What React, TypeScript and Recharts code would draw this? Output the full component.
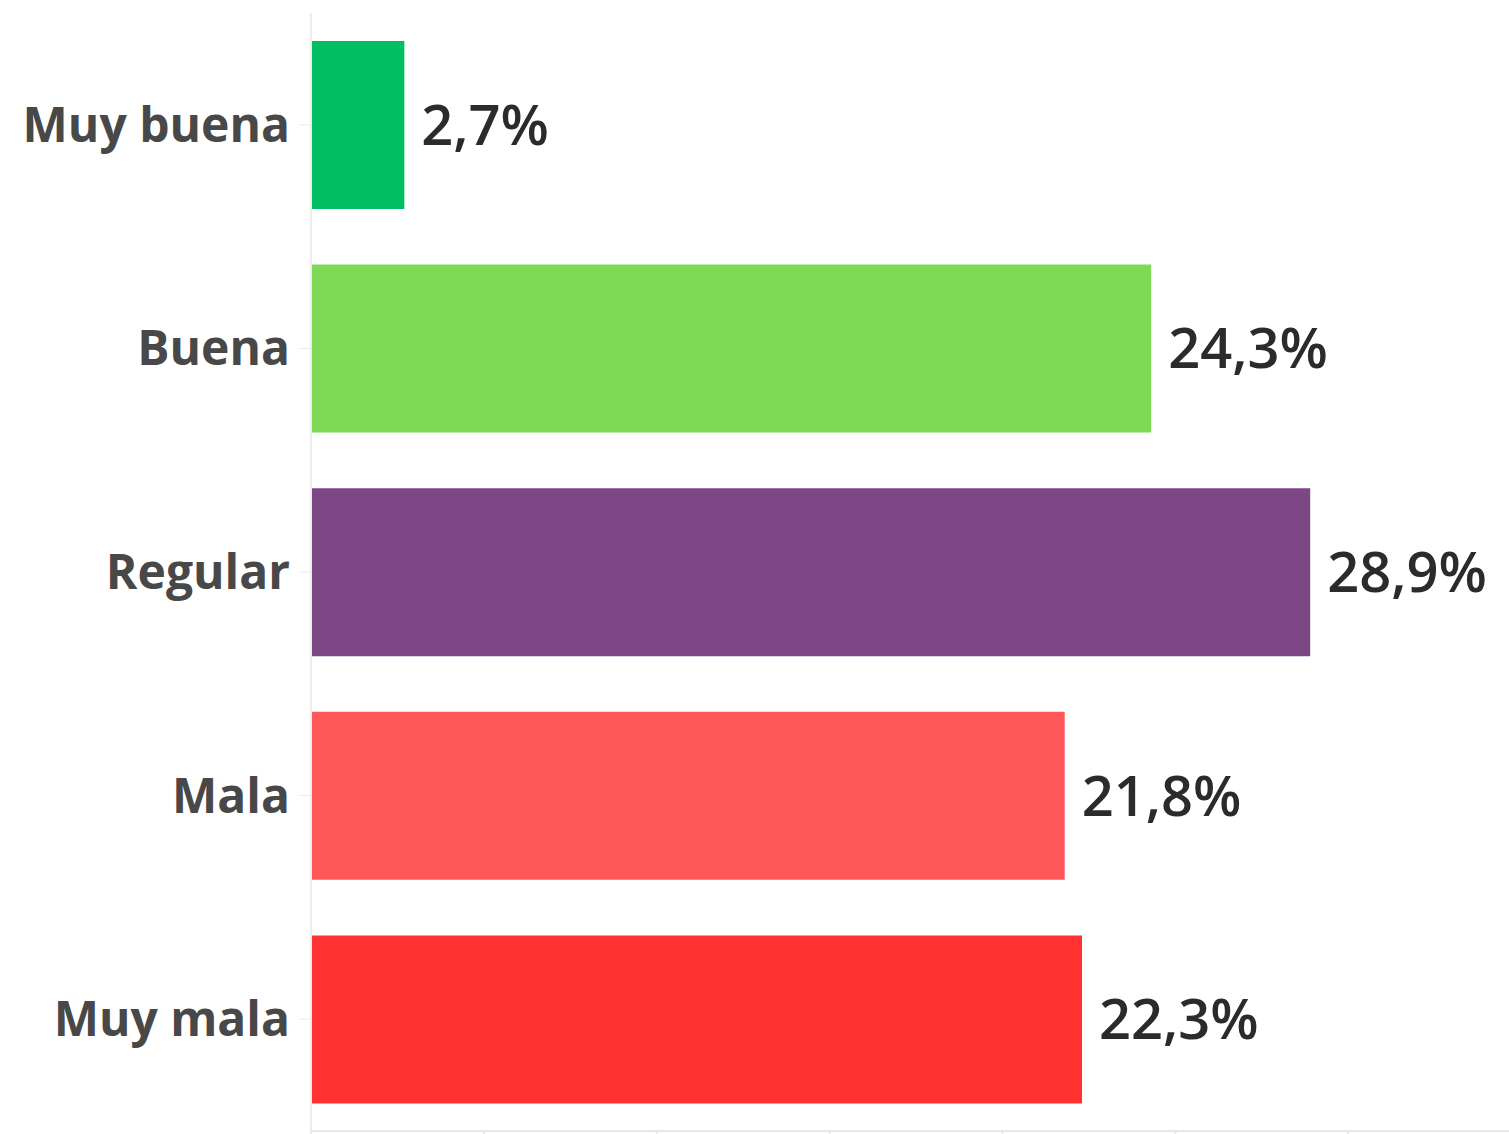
import { BarChart, Bar, XAxis, YAxis, Cell, LabelList } from "recharts"

const categories = ["Muy buena", "Buena", "Regular", "Mala", "Muy mala"]
const values = [2.7, 24.3, 28.9, 21.8, 22.3]
const colors = ["#00BF63", "#7ED957", "#7D4786", "#FF5757", "#FF3131"]
const xTicks = [0, 5, 10, 15, 20, 25, 30]

const data = categories.map((name, i) => ({ name, value: values[i] }))

const fmt = (v: any) => `${Number(v).toFixed(1).replace(".", ",")}%`

export default function App() {
  return (
    <div style={{ position: "absolute", left: 0, top: 0, width: 1509, height: 1134, overflow: "hidden", background: "#fff" }}>
      <BarChart
        width={1509}
        height={1140}
        data={data}
        layout="vertical"
        margin={{ top: 13, right: 0, bottom: 0, left: 0 }}
        barCategoryGap={28}
      >
        <XAxis
          type="number"
          domain={[0, 34.65]}
          ticks={xTicks}
          height={9}
          axisLine={{ stroke: "#e8e8e8", strokeWidth: 2 }}
          tickLine={{ stroke: "#e8e8e8", strokeWidth: 2 }}
          tickSize={6}
          tick={() => <g />}
        />
        <YAxis
          type="category"
          dataKey="name"
          width={311}
          axisLine={{ stroke: "#ececec", strokeWidth: 2 }}
          tickLine={{ stroke: "#ececec", strokeWidth: 1 }}
          tickSize={12}
          tickMargin={9}
          tick={{ fontSize: 48, fill: "#484848", fontFamily: "'Open Sans', sans-serif", fontWeight: 700 }}
        />
        <Bar dataKey="value" isAnimationActive={false}>
          {data.map((d, i) => (
            <Cell key={d.name} fill={colors[i]} />
          ))}
          <LabelList
            dataKey="value"
            position="right"
            offset={17}
            formatter={fmt}
            style={{ fontSize: 56, fill: "#2b2b2b", fontFamily: "'Open Sans', sans-serif", fontWeight: 600 }}
          />
        </Bar>
      </BarChart>
    </div>
  )
}
